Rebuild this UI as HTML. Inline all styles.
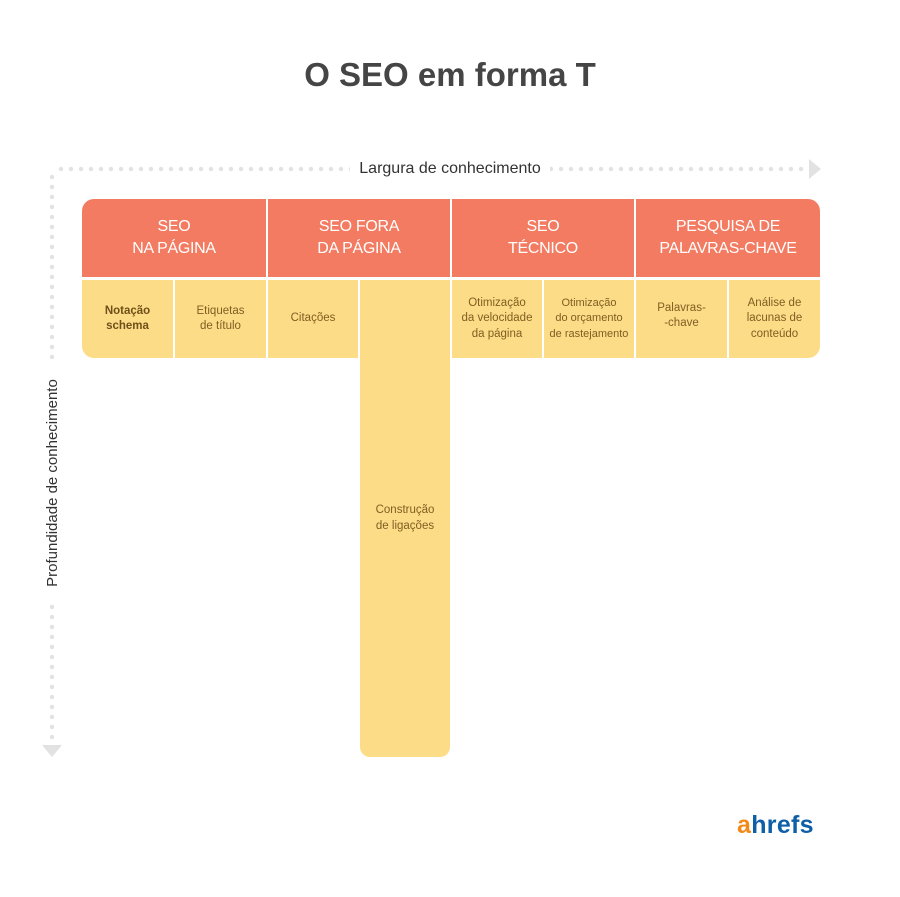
<!DOCTYPE html>
<html><head><meta charset="utf-8"><style>
body{margin:0;width:900px;height:897px;background:#fff;position:relative;overflow:hidden;font-family:"Liberation Sans",sans-serif}
.a{position:absolute;box-sizing:border-box;display:flex;align-items:center;justify-content:center;text-align:center}
.h{background:#f27b61;color:#fff;font-size:16px;line-height:22px;top:199px;height:78px;letter-spacing:-0.3px}
.s{background:#fddc87;color:#7d5f22;font-size:11.5px;line-height:15.5px;top:280px;height:78px}
</style></head><body>
<svg width="900" height="897" style="position:absolute;left:0;top:0">
<g fill="#e2e2e2" id="d"></g>
<polygon points="809,159 809,179 821,169" fill="#e2e2e2"/>
<polygon points="42,745 62,745 52,757" fill="#e2e2e2"/>
</svg>
<div class="a" style="left:0;width:900px;top:55px;height:40px;font-size:33px;font-weight:bold;color:#454545">O SEO em forma T</div>
<div class="a" style="left:350px;width:200px;top:158px;height:22px;font-size:16px;color:#333;background:#fff;white-space:nowrap">Largura de conhecimento</div>
<div class="a" style="left:-68px;width:240px;top:472px;height:22px;font-size:15px;color:#333;background:#fff;transform:rotate(-90deg);white-space:nowrap">Profundidade de conhecimento</div>
<div class="a h" style="left:82px;width:184px;border-top-left-radius:12px">SEO<br>NA PÁGINA</div>
<div class="a h" style="left:268px;width:182px">SEO FORA<br>DA PÁGINA</div>
<div class="a h" style="left:452px;width:182px">SEO<br>TÉCNICO</div>
<div class="a h" style="left:636px;width:184px;border-top-right-radius:12px">PESQUISA DE<br>PALAVRAS-CHAVE</div>
<div class="a s" style="left:82px;width:91px;border-bottom-left-radius:12px;font-weight:bold;color:#6e5018">Notação<br>schema</div>
<div class="a s" style="left:175px;width:91px">Etiquetas<br>de título</div>
<div class="a s" style="left:268px;width:90px">Citações</div>
<div class="a s" style="left:360px;width:90px;height:477px;border-radius:0 0 10px 10px">Construção<br>de ligações</div>
<div class="a s" style="left:452px;width:90px">Otimização<br>da velocidade<br>da página</div>
<div class="a s" style="left:544px;width:90px;font-size:11px">Otimização<br>do orçamento<br>de rastejamento</div>
<div class="a s" style="left:636px;width:91px;padding-bottom:6px">Palavras-<br>-chave</div>
<div class="a s" style="left:729px;width:91px;border-bottom-right-radius:12px">Análise de<br>lacunas de<br>conteúdo</div>
<div style="position:absolute;left:737px;top:811px;font-size:25px;font-weight:bold;letter-spacing:0.3px;font-family:'Liberation Sans',sans-serif"><span style="color:#f28a1a">a</span><span style="color:#0f5fa8">hrefs</span></div>
<script>
var g=document.getElementById('d'),s='';
for(var x=61;x<=805;x+=10)s+='<circle cx="'+x+'" cy="169" r="2.2"/>';
for(var y=177;y<=738;y+=10)s+='<circle cx="52" cy="'+y+'" r="2.2"/>';
g.innerHTML=s;
</script>
</body></html>
